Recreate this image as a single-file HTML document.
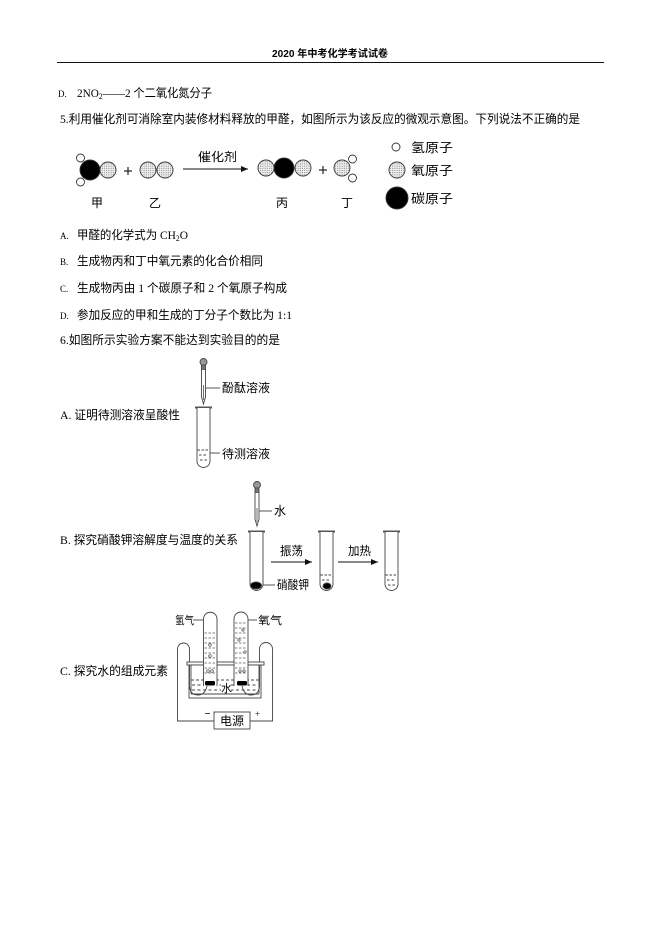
<!DOCTYPE html>
<html>
<head>
<meta charset="utf-8">
<style>
html,body{margin:0;padding:0;background:#fff;}
svg{display:block;}
text{font-family:"Liberation Serif","Noto Sans CJK SC",sans-serif;fill:#000;}
.cj{font-family:"Liberation Sans","Noto Sans CJK SC",sans-serif;}
</style>
</head>
<body>
<svg width="661" height="935" viewBox="0 0 661 935" xmlns="http://www.w3.org/2000/svg">
<defs>
  <pattern id="dots" width="2.2" height="2.2" patternUnits="userSpaceOnUse">
    <rect width="2.2" height="2.2" fill="#f2f2f2"/>
    <circle cx="1.1" cy="1.1" r="0.55" fill="#777"/>
  </pattern>
  <marker id="ah" markerWidth="8" markerHeight="8" refX="7" refY="4" orient="auto" markerUnits="userSpaceOnUse">
    <path d="M0,1 L7,4 L0,7 Z" fill="#111"/>
  </marker>
</defs>

<!-- header -->
<text class="cj" x="272" y="57" font-size="10" font-weight="bold" textLength="116" lengthAdjust="spacingAndGlyphs">2020 年中考化学考试试卷</text>
<line x1="57" y1="62.5" x2="604" y2="62.5" stroke="#111" stroke-width="1"/>

<!-- D line -->
<text x="58" y="97" font-size="9">D.</text>
<text x="77" y="97" font-size="12" textLength="135" lengthAdjust="spacingAndGlyphs">2NO<tspan font-size="8" dy="2">2</tspan><tspan dy="-2">——2 个二氧化氮分子</tspan></text>

<!-- Q5 -->
<text x="60" y="123" font-size="12" textLength="520" lengthAdjust="spacingAndGlyphs">5.利用催化剂可消除室内装修材料释放的甲醛，如图所示为该反应的微观示意图。下列说法不正确的是</text>

<!-- molecule diagram -->
<g stroke="#333" stroke-width="0.9">
  <!-- jia -->
  <circle cx="80.5" cy="158" r="4" fill="#fff"/>
  <circle cx="80.5" cy="182" r="4" fill="#fff"/>
  <circle cx="90" cy="170" r="10" fill="#000"/>
  <circle cx="108" cy="170" r="8" fill="url(#dots)"/>
  <!-- yi -->
  <circle cx="148" cy="170" r="8" fill="url(#dots)"/>
  <circle cx="165" cy="170" r="8" fill="url(#dots)"/>
  <!-- bing -->
  <circle cx="266" cy="168" r="8" fill="url(#dots)"/>
  <circle cx="303" cy="168" r="8" fill="url(#dots)"/>
  <circle cx="284" cy="168" r="10" fill="#000"/>
  <!-- ding -->
  <circle cx="352.5" cy="159" r="4" fill="#fff"/>
  <circle cx="352.5" cy="178" r="4" fill="#fff"/>
  <circle cx="342" cy="168" r="8" fill="url(#dots)"/>
  <!-- legend -->
  <circle cx="396" cy="147" r="4" fill="#fff"/>
  <circle cx="397" cy="170" r="8" fill="url(#dots)"/>
  <circle cx="397" cy="198" r="11" fill="#000"/>
</g>
<g stroke="#222" stroke-width="1.2">
  <line x1="124" y1="171" x2="132" y2="171"/><line x1="128" y1="167" x2="128" y2="175"/>
  <line x1="319" y1="170" x2="327" y2="170"/><line x1="323" y1="166" x2="323" y2="174"/>
</g>
<line x1="183" y1="169" x2="248" y2="169" stroke="#111" stroke-width="1" marker-end="url(#ah)"/>
<text class="cj" x="198" y="161" font-size="12" textLength="39" lengthAdjust="spacingAndGlyphs">催化剂</text>
<text class="cj" x="91" y="207" font-size="12">甲</text>
<text class="cj" x="149" y="207" font-size="12">乙</text>
<text class="cj" x="276" y="207" font-size="12">丙</text>
<text class="cj" x="341" y="207" font-size="12">丁</text>
<text class="cj" x="411" y="152" font-size="12.5" textLength="42" lengthAdjust="spacingAndGlyphs">氢原子</text>
<text class="cj" x="411" y="175" font-size="12.5" textLength="42" lengthAdjust="spacingAndGlyphs">氧原子</text>
<text class="cj" x="411" y="203" font-size="12.5" textLength="42" lengthAdjust="spacingAndGlyphs">碳原子</text>

<!-- options -->
<text x="60" y="239" font-size="9">A.</text>
<text x="77" y="239" font-size="12" textLength="111" lengthAdjust="spacingAndGlyphs">甲醛的化学式为 CH<tspan font-size="8" dy="2">2</tspan><tspan dy="-2">O</tspan></text>
<text x="60" y="265" font-size="9">B.</text>
<text x="77" y="265" font-size="12" textLength="186" lengthAdjust="spacingAndGlyphs">生成物丙和丁中氧元素的化合价相同</text>
<text x="60" y="292" font-size="9">C.</text>
<text x="77" y="292" font-size="12" textLength="210" lengthAdjust="spacingAndGlyphs">生成物丙由 1 个碳原子和 2 个氧原子构成</text>
<text x="60" y="319" font-size="9">D.</text>
<text x="77" y="319" font-size="12" textLength="215" lengthAdjust="spacingAndGlyphs">参加反应的甲和生成的丁分子个数比为 1:1</text>
<text x="60" y="344" font-size="12" textLength="220" lengthAdjust="spacingAndGlyphs">6.如图所示实验方案不能达到实验目的的是</text>

<!-- Experiment A -->
<text x="60" y="419" font-size="12" textLength="120" lengthAdjust="spacingAndGlyphs">A. 证明待测溶液呈酸性</text>
<g stroke="#444" stroke-width="0.9">
  <circle cx="203.5" cy="362" r="3.5" fill="#999"/>
  <rect x="201.5" y="365" width="4" height="5" fill="#777"/>
  <path d="M201.5,370 V397 L203.5,404 L205.5,397 V370" fill="#fff"/>
  <line x1="203.5" y1="385" x2="203.5" y2="400" stroke="#666"/>
  <line x1="206" y1="388" x2="220" y2="388"/>
  <line x1="195" y1="407.5" x2="212" y2="407.5" stroke="#555" stroke-width="2"/>
  <path d="M197,408 V461 A6.5,6.5 0 0 0 210,461 V408" fill="#fff"/>
  <line x1="197.5" y1="450" x2="209.5" y2="450" stroke-dasharray="2.5 1.5"/>
  <line x1="199" y1="455" x2="208" y2="455" stroke-dasharray="2.5 2"/>
  <line x1="200" y1="460" x2="207" y2="460" stroke-dasharray="2.5 2"/>
  <line x1="210" y1="453" x2="220" y2="453"/>
</g>
<text class="cj" x="222" y="392" font-size="12" textLength="48" lengthAdjust="spacingAndGlyphs">酚酞溶液</text>
<text class="cj" x="222" y="458" font-size="12" textLength="48" lengthAdjust="spacingAndGlyphs">待测溶液</text>

<!-- Experiment B -->
<text x="60" y="544" font-size="12" textLength="178" lengthAdjust="spacingAndGlyphs">B. 探究硝酸钾溶解度与温度的关系</text>
<g stroke="#444" stroke-width="0.9">
  <circle cx="257" cy="485" r="3.5" fill="#999"/>
  <rect x="255" y="488" width="4" height="5" fill="#777"/>
  <path d="M255,493 V519 L257,526 L259,519 V493" fill="#fff"/>
  <line x1="257" y1="508" x2="257" y2="522" stroke="#666"/>
  <line x1="259" y1="511" x2="272" y2="511"/>
  <!-- tube 1 -->
  <line x1="248" y1="531.5" x2="265" y2="531.5" stroke="#555" stroke-width="2"/>
  <path d="M250,532 V584 A6.5,6.5 0 0 0 263,584 V532" fill="#fff"/>
  <ellipse cx="256" cy="585.5" rx="5.5" ry="3.5" fill="#000"/>
  <line x1="263" y1="585" x2="275" y2="585"/>
  <!-- tube 2 -->
  <line x1="318" y1="531.5" x2="335" y2="531.5" stroke="#555" stroke-width="2"/>
  <path d="M320,532 V584 A6.5,6.5 0 0 0 333,584 V532" fill="#fff"/>
  <line x1="320.5" y1="575" x2="332.5" y2="575" stroke-dasharray="2.5 1.5"/>
  <line x1="322" y1="580" x2="331" y2="580" stroke-dasharray="2.5 2"/>
  <ellipse cx="327" cy="586" rx="4" ry="3" fill="#000"/>
  <!-- tube 3 -->
  <line x1="383" y1="531.5" x2="400" y2="531.5" stroke="#555" stroke-width="2"/>
  <path d="M385,532 V584 A6.5,6.5 0 0 0 398,584 V532" fill="#fff"/>
  <line x1="385.5" y1="575" x2="397.5" y2="575" stroke-dasharray="2.5 1.5"/>
  <line x1="387" y1="580" x2="396" y2="580" stroke-dasharray="2.5 2"/>
  <line x1="388" y1="585" x2="395" y2="585" stroke-dasharray="2.5 2"/>
</g>
<line x1="271" y1="562" x2="312" y2="562" stroke="#111" stroke-width="1" marker-end="url(#ah)"/>
<line x1="338" y1="562" x2="378" y2="562" stroke="#111" stroke-width="1" marker-end="url(#ah)"/>
<text class="cj" x="274" y="515" font-size="12">水</text>
<text class="cj" x="277" y="589" font-size="12" textLength="32" lengthAdjust="spacingAndGlyphs">硝酸钾</text>
<text class="cj" x="280" y="555" font-size="12" textLength="23" lengthAdjust="spacingAndGlyphs">振荡</text>
<text class="cj" x="348" y="555" font-size="12" textLength="23" lengthAdjust="spacingAndGlyphs">加热</text>

<!-- Experiment C -->
<text x="60" y="675" font-size="12" textLength="108" lengthAdjust="spacingAndGlyphs">C. 探究水的组成元素</text>
<g stroke="#444" stroke-width="0.9" fill="none">
  <path d="M214,721 H177.5 V649 A6,6 0 0 1 189.5,649 V662"/>
  <path d="M250,721 H272.5 V649 A6.5,6.5 0 0 0 259.5,649 V662"/>
  <rect x="187" y="662" width="77" height="3" fill="#fff"/>
  <rect x="189" y="665" width="72" height="33" fill="#fff"/>
  <line x1="191" y1="694" x2="259" y2="694"/>
  <line x1="191" y1="665" x2="191" y2="694"/>
  <line x1="259" y1="665" x2="259" y2="694"/>
  <line x1="191" y1="680" x2="259" y2="680" stroke-dasharray="3 2"/>
  <line x1="192" y1="685" x2="258" y2="685" stroke-dasharray="3 2.5"/>
  <line x1="192" y1="690" x2="258" y2="690" stroke-dasharray="3 2.5"/>
  <path d="M189.5,665 V686 Q190,695 198,695 Q205,695 207,686"/>
  <path d="M259.5,665 V686 Q259,695 251,695 Q244,695 242,686"/>
  <path d="M203.5,686 V619 A6.75,6.75 0 0 1 217,619 V686" fill="#fff"/>
  <path d="M234,686 V619 A7,7 0 0 1 248,619 V686" fill="#fff"/>
</g>
<g stroke="#555" stroke-width="0.8" stroke-dasharray="2.5 1.5">
  <line x1="204.5" y1="633" x2="216" y2="633"/>
  <line x1="204.5" y1="638" x2="216" y2="638"/>
  <line x1="204.5" y1="643" x2="216" y2="643"/>
  <line x1="204.5" y1="648" x2="216" y2="648"/>
  <line x1="204.5" y1="653" x2="216" y2="653"/>
  <line x1="204.5" y1="658" x2="216" y2="658"/>
  <line x1="204.5" y1="663" x2="216" y2="663"/>
  <line x1="204.5" y1="668" x2="216" y2="668"/>
  <line x1="204.5" y1="673" x2="216" y2="673"/>
  <line x1="235" y1="623" x2="247" y2="623"/>
  <line x1="235" y1="628" x2="247" y2="628"/>
  <line x1="235" y1="633" x2="247" y2="633"/>
  <line x1="235" y1="638" x2="247" y2="638"/>
  <line x1="235" y1="643" x2="247" y2="643"/>
  <line x1="235" y1="648" x2="247" y2="648"/>
  <line x1="235" y1="653" x2="247" y2="653"/>
  <line x1="235" y1="658" x2="247" y2="658"/>
  <line x1="235" y1="663" x2="247" y2="663"/>
  <line x1="235" y1="668" x2="247" y2="668"/>
  <line x1="235" y1="673" x2="247" y2="673"/>
</g>
<g stroke="#444" stroke-width="0.7" fill="#fff">
  <circle cx="210" cy="645" r="1.3"/>
  <circle cx="210" cy="656" r="1.3"/>
  <circle cx="208" cy="671" r="1.3"/>
  <circle cx="212" cy="671" r="1.3"/>
  <circle cx="243" cy="630" r="1.2"/>
  <circle cx="239" cy="640" r="1.2"/>
  <circle cx="245" cy="652" r="1.2"/>
  <circle cx="240" cy="671" r="1.2"/>
  <circle cx="244" cy="671" r="1.2"/>
</g>
<rect x="205" y="681" width="10" height="4.5" rx="1.5" fill="#000"/>
<rect x="237" y="681" width="10" height="4.5" rx="1.5" fill="#000"/>
<rect x="221" y="682" width="10" height="11" fill="#fff"/>
<text class="cj" x="221" y="692" font-size="11">水</text>
<g stroke="#444" stroke-width="0.9">
  <line x1="193" y1="620" x2="203.5" y2="620"/>
  <line x1="248" y1="620" x2="257" y2="620"/>
  <rect x="214" y="712" width="36" height="17" fill="#fff"/>
</g>
<text class="cj" x="175" y="624" font-size="11" textLength="19" lengthAdjust="spacingAndGlyphs">氢气</text>
<text class="cj" x="258" y="624" font-size="11" textLength="24" lengthAdjust="spacingAndGlyphs">氧气</text>
<text class="cj" x="220" y="725" font-size="12" textLength="24" lengthAdjust="spacingAndGlyphs">电源</text>
<line x1="205" y1="713.5" x2="210" y2="713.5" stroke="#333" stroke-width="0.9"/>
<text x="255" y="717" font-size="9">+</text>
</svg>
</body>
</html>
